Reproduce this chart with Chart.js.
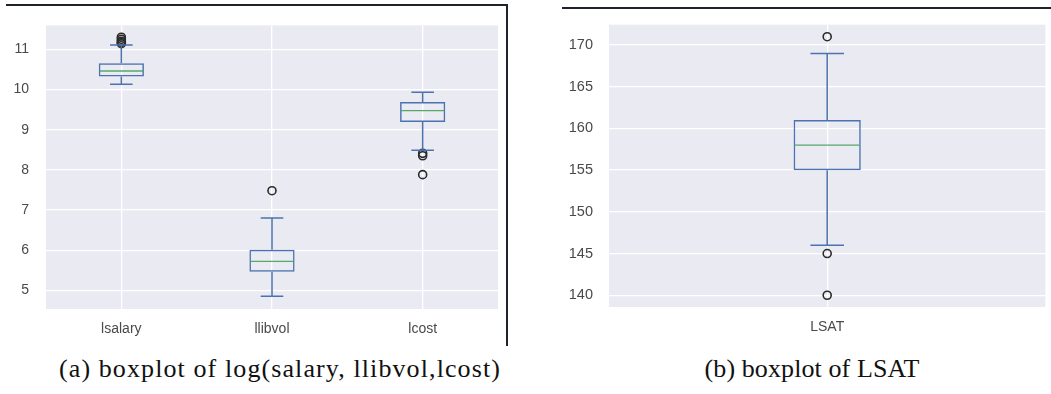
<!DOCTYPE html>
<html>
<head>
<meta charset="utf-8">
<script src="https://cdn.jsdelivr.net/npm/chart.js@4.4.1/dist/chart.umd.min.js"></script>
<style>
  html, body { margin:0; padding:0; background:#fff; width:1051px; height:394px; overflow:hidden; }
  #c1 { position:absolute; left:0; top:0; }
  #c2 { position:absolute; left:540px; top:0; }
  .line { position:absolute; background:#1e222b; }
  .cap { position:absolute; font-family:"Liberation Serif","Times New Roman",serif; font-size:26px; color:#111; white-space:nowrap; transform:translateX(-50%); line-height:30px; }
</style>
</head>
<body>
<canvas id="c1" width="510" height="345"></canvas>
<canvas id="c2" width="511" height="345"></canvas>
<div class="line" style="left:6px; top:4px; width:502px; height:2px;"></div>
<div class="line" style="left:506px; top:4px; width:2px; height:342px;"></div>
<div class="line" style="left:562px; top:7px; width:489px; height:2px;"></div>
<div class="cap" style="left:280px; top:354px; letter-spacing:1.1px;">(a) boxplot of log(salary, llibvol,lcost)</div>
<div class="cap" style="left:812px; top:354px; letter-spacing:0.1px;">(b) boxplot of LSAT</div>
<script>
// ---- Data: panel (a) ----
const catsA = ['lsalary', 'llibvol', 'lcost'];
const whiskerLowA = [10.13, 4.85, 8.49];
const q1A = [10.32, 5.46, 9.19];
const medianA = [10.46, 5.72, 9.475];
const q3A = [10.655, 6.01, 9.69];
const whiskerHighA = [11.11, 6.80, 9.93];
const outliersA = [[11.14, 11.17, 11.20, 11.25, 11.30], [7.48], [8.35, 8.41, 7.88]];
const yTicksA = [5, 6, 7, 8, 9, 10, 11];

// ---- Data: panel (b) ----
const catsB = ['LSAT'];
const whiskerLowB = [146];
const q1B = [155];
const medianB = [158];
const q3B = [161];
const whiskerHighB = [169];
const outliersB = [[171, 145, 140]];
const yTicksB = [140, 145, 150, 155, 160, 165, 170];

const BLUE = '#4C72B0', GREEN = '#55A868', BG = '#EAEAF2', TXT = '#4a4a4a';

const bgPlugin = {
  id: 'bg',
  beforeDraw(chart) {
    const a = chart.chartArea, ctx = chart.ctx;
    ctx.save(); ctx.fillStyle = BG; ctx.fillRect(a.left, a.top, a.right - a.left, a.bottom - a.top); ctx.restore();
  }
};

function whiskerPlugin(low, med, high) {
  return {
    id: 'whiskers',
    afterDatasetsDraw(chart) {
      const meta = chart.getDatasetMeta(0), y = chart.scales.y, ctx = chart.ctx;
      const b = chart.data.datasets[0].data;
      ctx.save();
      meta.data.forEach((el, i) => {
        const x = el.x, w = el.width;
        const yq1 = y.getPixelForValue(b[i][0]), yq3 = y.getPixelForValue(b[i][1]);
        const yl = y.getPixelForValue(low[i]), yh = y.getPixelForValue(high[i]), ym = y.getPixelForValue(med[i]);
        ctx.strokeStyle = BLUE; ctx.lineWidth = 1.5;
        ctx.beginPath();
        ctx.moveTo(x, yq3); ctx.lineTo(x, yh);
        ctx.moveTo(x - w / 4, yh); ctx.lineTo(x + w / 4, yh);
        ctx.moveTo(x, yq1); ctx.lineTo(x, yl);
        ctx.moveTo(x - w / 4, yl); ctx.lineTo(x + w / 4, yl);
        ctx.stroke();
        ctx.strokeStyle = GREEN; ctx.lineWidth = 1.3;
        ctx.beginPath(); ctx.moveTo(x - w / 2 + 1, ym); ctx.lineTo(x + w / 2 - 1, ym); ctx.stroke();
      });
      ctx.restore();
    }
  };
}

function makeChart(id, cats, q1, q3, low, med, high, outs, yTicks, opt) {
  const outData = [];
  outs.forEach((arr, i) => arr.forEach(v => outData.push({ x: cats[i], y: v })));
  return new Chart(document.getElementById(id), {
    type: 'bar',
    data: {
      labels: cats,
      datasets: [
        {
          data: cats.map((c, i) => [q1[i], q3[i]]),
          backgroundColor: 'rgba(0,0,0,0)', borderColor: BLUE, borderWidth: 1.5, borderSkipped: false,
          barPercentage: opt.barPct, categoryPercentage: 1.0
        },
        {
          type: 'scatter', data: outData,
          pointStyle: 'circle', pointRadius: 4, pointBorderWidth: 1.6,
          pointBorderColor: '#2a2a2a', pointBackgroundColor: 'rgba(0,0,0,0)'
        }
      ]
    },
    options: {
      responsive: false, animation: false, events: [],
      layout: { padding: { left: 0, top: opt.top, right: opt.right, bottom: 0 } },
      plugins: { legend: { display: false }, tooltip: { enabled: false } },
      scales: {
        x: {
          type: 'category', offset: true,
          grid: { offset: false, color: '#ffffff', lineWidth: 1.3, drawTicks: false },
          border: { display: false },
          ticks: { color: TXT, font: { family: 'Liberation Sans, Arial, sans-serif', size: 14 }, padding: 12 },
          afterFit(s) { s.height = opt.xh; }
        },
        y: {
          min: opt.min, max: opt.max,
          grid: { color: '#ffffff', lineWidth: 1.3, drawTicks: false },
          border: { display: false },
          ticks: { color: TXT, font: { family: 'Liberation Sans, Arial, sans-serif', size: opt.yfs }, padding: opt.ypad },
          afterBuildTicks(s) { s.ticks = yTicks.map(v => ({ value: v })); },
          afterFit(s) { s.width = opt.yw; }
        }
      }
    },
    plugins: [bgPlugin, whiskerPlugin(low, med, high)]
  });
}

makeChart('c1', catsA, q1A, q3A, whiskerLowA, medianA, whiskerHighA, outliersA, yTicksA,
  { barPct: 0.30, top: 16, right: 12, xh: 36, yw: 46, ypad: 17, min: 4.535, max: 11.595, yfs: 14 });
makeChart('c2', catsB, q1B, q3B, whiskerLowB, medianB, whiskerHighB, outliersB, yTicksB,
  { barPct: 0.154, top: 20, right: 0, xh: 38, yw: 69, ypad: 16, min: 138.59, max: 172.44, yfs: 14.5 });
</script>
</body>
</html>
